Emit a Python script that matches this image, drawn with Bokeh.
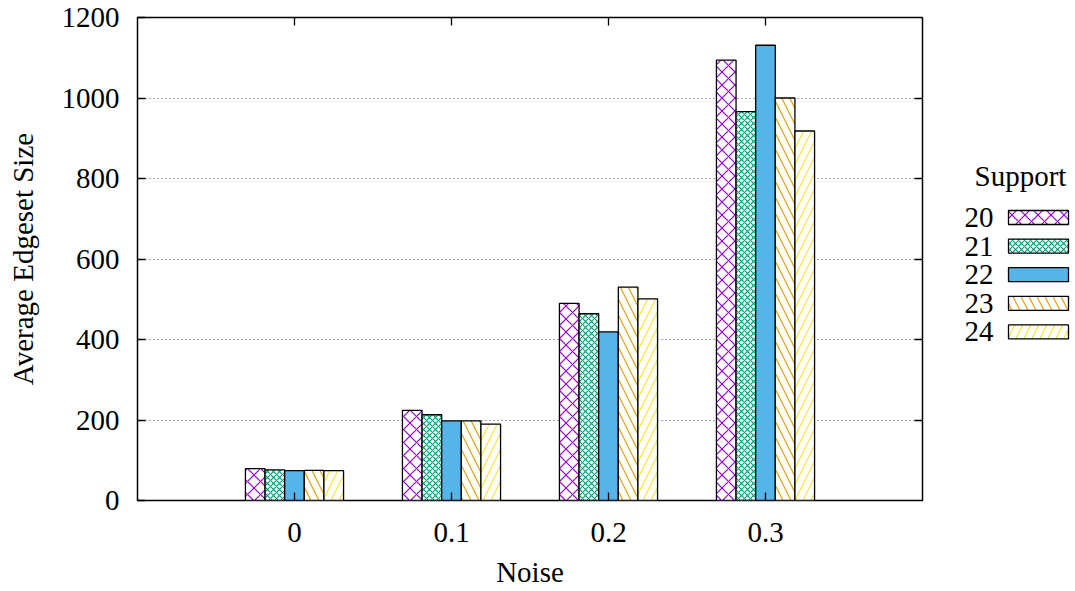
from bokeh.plotting import figure
from bokeh.layouts import row
from bokeh.models import Range1d, LinearAxis, FixedTicker, ColumnDataSource
from bokeh.embed import file_html
from bokeh.resources import INLINE
from bokeh.core.properties import value

noise = ["0", "0.1", "0.2", "0.3"]
supports = ["20", "21", "22", "23", "24"]
s20 = [79, 224, 490, 1094]
s21 = [76, 213, 464, 966]
s22 = [74, 198, 419, 1131]
s23 = [75, 198, 530, 1000]
s24 = [74, 190, 501, 918]
series = [s20, s21, s22, s23, s24]

colors = ["#9400d3", "#009e73", "#56b4e9", "#e69f00", "#f0e442"]
hatches = ["diagonal_cross", "diagonal_cross", None, "left_diagonal_line", "right_diagonal_line"]
hscales = [13, 6, 10, 16, 16]

FONT = "Liberation Serif"
FS = "29px"
W_MAIN, H = 940, 591
TOP, BOTTOM = 17, 91
bw = 0.125

p = figure(width=W_MAIN, height=H, output_backend="svg", toolbar_location=None,
           x_range=Range1d(-1, 4), y_range=Range1d(0, 1200),
           min_border_left=137, min_border_right=18, min_border_top=TOP, min_border_bottom=BOTTOM)
p.outline_line_color = "black"
p.outline_line_width = 1.5
p.background_fill_color = "white"
p.xgrid.visible = False
p.ygrid.grid_line_color = "#555555"
p.ygrid.grid_line_dash = "1 3"
p.ygrid.grid_line_width = 1
p.ygrid.ticker = FixedTicker(ticks=[200, 400, 600, 800, 1000])

xs = list(range(len(noise)))
for i, (vals, name) in enumerate(zip(series, supports)):
    off = (i - 2) * bw
    src = ColumnDataSource(dict(x=[x + off for x in xs], top=vals))
    kw = dict(x="x", top="top", bottom=0, width=bw, source=src,
              line_color="black", line_width=1.3)
    if hatches[i] is None:
        p.vbar(fill_color=colors[i], **kw)
    else:
        p.vbar(fill_color="white", hatch_pattern=hatches[i], hatch_color=colors[i],
               hatch_scale=hscales[i], hatch_weight=1.2, **kw)

for ax in [p.xaxis[0], p.yaxis[0]]:
    ax.axis_line_color = None
    ax.major_tick_in = 8
    ax.major_tick_out = 0
    ax.minor_tick_line_color = None
    ax.major_label_text_font = FONT
    ax.major_label_text_font_size = FS
    ax.major_label_text_color = "black"
    ax.axis_label_text_font = FONT
    ax.axis_label_text_font_size = FS
    ax.axis_label_text_font_style = "normal"
    ax.axis_label_text_color = "black"
    ax.major_tick_line_color = "black"
    ax.major_tick_line_width = 1.3

p.xaxis.ticker = FixedTicker(ticks=xs)
p.xaxis.major_label_overrides = {i: n for i, n in enumerate(noise)}
p.xaxis.axis_label = "Noise"
p.xaxis.major_label_standoff = 22
p.xaxis.axis_label_standoff = 11
p.yaxis.ticker = FixedTicker(ticks=[0, 200, 400, 600, 800, 1000, 1200])
p.yaxis.axis_label = "Average Edgeset Size"
p.yaxis.major_label_standoff = 18
p.yaxis.axis_label_standoff = 20

top_ax = LinearAxis(ticker=FixedTicker(ticks=xs))
right_ax = LinearAxis(ticker=FixedTicker(ticks=[200, 400, 600, 800, 1000]))
for ax in [top_ax, right_ax]:
    ax.axis_line_color = None
    ax.major_tick_in = 8
    ax.major_tick_out = 0
    ax.minor_tick_line_color = None
    ax.major_label_text_color = None
    ax.major_label_text_font_size = "1px"
    ax.major_tick_line_color = "black"
    ax.major_tick_line_width = 1.3
p.add_layout(top_ax, "above")
p.add_layout(right_ax, "right")

# manual legend (gnuplot style: label left of swatch); row aligns frames,
# so the legend frame spans the same vertical pixels as the main frame
W_LEG = 1075 - W_MAIN
lg = figure(width=W_LEG, height=H, output_backend="svg", toolbar_location=None,
            x_range=Range1d(W_MAIN, 1075), y_range=Range1d(H - BOTTOM, TOP),
            min_border_left=0, min_border_right=0, min_border_top=TOP, min_border_bottom=BOTTOM)
lg.axis.visible = False
lg.grid.visible = False
lg.outline_line_color = None

lg.text(x=[1020], y=[175], text=["Support"], text_font=value(FONT), text_font_size=FS,
        text_align="center", text_baseline="middle", text_color="black")
y0, dy = 217, 28.6
for i, name in enumerate(supports):
    y = y0 + i * dy
    lg.text(x=[993], y=[y], text=[name], text_font=value(FONT), text_font_size=FS,
            text_align="right", text_baseline="middle", text_color="black")
    kw = dict(x=[1038], y=[y], width=60, height=14, line_color="black", line_width=1.3)
    if hatches[i] is None:
        lg.rect(fill_color=colors[i], **kw)
    else:
        lg.rect(fill_color="white", hatch_pattern=hatches[i], hatch_color=colors[i],
                hatch_scale=hscales[i], hatch_weight=1.2, **kw)

layout = row(p, lg, spacing=0)
open("out.html", "w").write(file_html(layout, INLINE))
